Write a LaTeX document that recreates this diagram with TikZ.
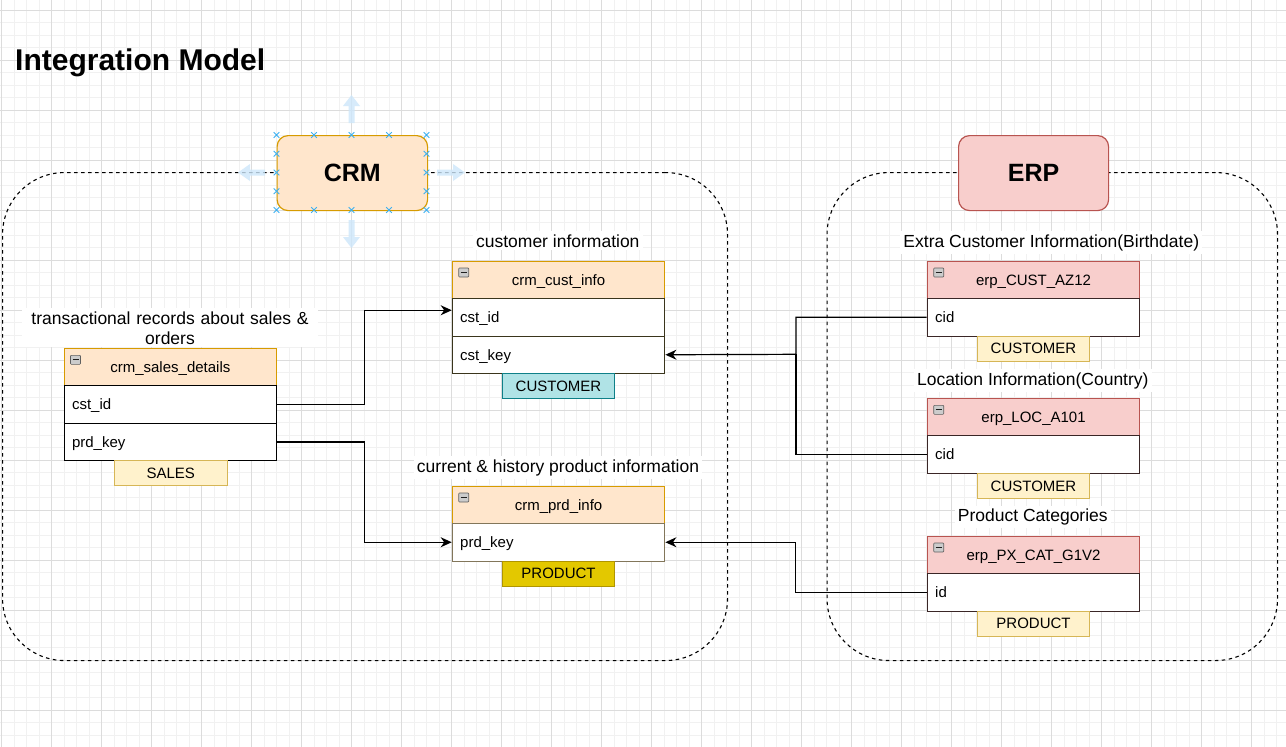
\documentclass[tikz,border=0pt]{standalone}
\usepackage{fontspec}
\setmainfont{Liberation Sans}
\usetikzlibrary{arrows.meta}
\definecolor{crmfill}{HTML}{FFE6CC}
\definecolor{crmline}{HTML}{D79B00}
\definecolor{erpfill}{HTML}{F8CECC}
\definecolor{erpline}{HTML}{B85450}
\definecolor{tagfill}{HTML}{FFF2CC}
\definecolor{tagline}{HTML}{D6B656}
\definecolor{tealfill}{HTML}{B0E3E6}
\definecolor{tealline}{HTML}{0E8088}
\definecolor{goldfill}{HTML}{E3C800}
\definecolor{goldline}{HTML}{B09500}
\definecolor{gridminor}{HTML}{F1F1F1}
\definecolor{gridmajor}{HTML}{DCDCDC}
\definecolor{hoverblue}{HTML}{CDE7FA}
\definecolor{handleblue}{HTML}{3DB0F0}
\definecolor{custrow}{HTML}{3A351C}
\definecolor{prdrow}{HTML}{82765A}
\definecolor{erprow}{HTML}{3A2626}
\newcommand\fsfield{\fontsize{15}{18}\selectfont}
\newcommand\fslabel{\fontsize{17.5}{20.3}\selectfont}
\newcommand\tblicon[2]{%
  \draw[iconbox] ({#1+7},{#2+7}) rectangle ({#1+17},{#2+16});
  \draw[iconbar] ({#1+9},{#2+11.5}) -- ({#1+15},{#2+11.5});}
\begin{document}
\begin{tikzpicture}[x=1pt,y=-1pt,
  zonebox/.style={rounded corners=11pt, line width=1.2pt, minimum width=150.5, minimum height=75,
    anchor=north west, inner sep=0, font=\fontsize{25}{30}\selectfont\bfseries},
  container/.style={draw=black, line width=1.1pt, dash pattern=on 3.5pt off 3.5pt,
    rounded corners=62pt, minimum height=488, anchor=north west, inner sep=0},
  head/.style={line width=1pt, minimum width=212.7, minimum height=37, anchor=north west,
    inner sep=0, text height=10, text depth=0, font=\fsfield},
  crmhead/.style={head, fill=crmfill, draw=crmline},
  erphead/.style={head, fill=erpfill, draw=erpline},
  field/.style={fill=white, line width=1pt, minimum width=212.7, minimum height=37.5,
    anchor=north west, text width=196.7, align=left, inner xsep=8, inner ysep=0,
    text height=10.6, text depth=0, font=\fsfield},
  tag/.style={line width=1pt, minimum width=112.6, minimum height=25, anchor=north west,
    inner sep=0, text height=10.4, text depth=0, font=\fsfield},
  yellowtag/.style={tag, fill=tagfill, draw=tagline},
  lab/.style={fill=white, inner sep=3pt, anchor=base, font=\fslabel},
  iconbox/.style={draw=gray!75!black, fill=gray!40, line width=0.6pt, rounded corners=0.8pt},
  iconbar/.style={draw=gray!25!black, line width=1.3pt},
  conn/.style={draw=black, line width=1.2pt},
  tip/.style={-{Stealth[length=11pt,width=10pt,inset=3.5pt]}},
  hover/.style={fill=hoverblue, opacity=0.8},
  handle/.style={draw=handleblue, line width=0.9pt}
]
\useasboundingbox (0,0) rectangle (1286,747);
\fill[white] (0,0) rectangle (1286,747);
% grid
\foreach \i in {0,...,102} \draw[gridminor, line width=1pt] ({1.7+12.5*\i},0) -- ({1.7+12.5*\i},747);
\foreach \j in {0,...,58} \draw[gridminor, line width=1pt] (0,{10+12.5*\j}) -- (1286,{10+12.5*\j});
\foreach \i in {0,...,25} \draw[gridmajor, line width=1pt] ({1.7+50*\i},0) -- ({1.7+50*\i},747);
\foreach \j in {0,...,14} \draw[gridmajor, line width=1pt] (0,{10+50*\j}) -- (1286,{10+50*\j});

% title
\node[anchor=base west, inner sep=0, font=\fontsize{30}{36}\selectfont\bfseries] (title) at (15,70) {Integration Model};

% labels
\node[lab] (lab-ci) at (557.8,247) {customer information};
\node[lab, text width=290, align=center] (lab-sd) at (170,324) {transactional records about sales \&\\orders};
\node[lab] (lab-cp) at (558,472) {current \& history product information};
\node[lab] (lab-ec) at (1051.3,247) {Extra Customer Information(Birthdate)};
\node[lab] (lab-el) at (1032.8,385) {Location Information(Country)};
\node[lab] (lab-ep) at (1032.8,521.7) {Product Categories};

% containers
\node[container, minimum width=725] (crmzone) at (2,172) {};
\node[container, minimum width=450.5] (erpzone) at (826.5,172) {};

% hover arrows around CRM
\fill[hover] (348.5,123) -- (348.5,106) -- (343,106) -- (351.5,95) -- (360,106) -- (354.5,106) -- (354.5,123) -- cycle;
\fill[hover] (348.5,220) -- (348.5,237) -- (343,237) -- (351.5,248) -- (360,237) -- (354.5,237) -- (354.5,220) -- cycle;
\fill[hover] (265,169.5) -- (250,169.5) -- (250,164) -- (238,172.5) -- (250,181) -- (250,175.5) -- (265,175.5) -- cycle;
\fill[hover] (437,169.5) -- (453,169.5) -- (453,164) -- (465,172.5) -- (453,181) -- (453,175.5) -- (437,175.5) -- cycle;

% CRM / ERP boxes
\node[zonebox, fill=crmfill, draw=crmline] (crm) at (276.5,135) {CRM};
\node[zonebox, fill=erpfill, draw=erpline, minimum width=150] (erp) at (958,135) {ERP};

% selection handles on CRM
\foreach \hx in {276.5,314,351.5,389,426.5} {
  \foreach \hy in {135,210} {
    \draw[handle] (\hx,\hy) ++(-2.8,-2.8) -- ++(5.6,5.6) (\hx,\hy) ++(-2.8,2.8) -- ++(5.6,-5.6);
  }
}
\foreach \hx in {276.5,426.5} {
  \foreach \hy in {153.75,172.5,191.25} {
    \draw[handle] (\hx,\hy) ++(-2.8,-2.8) -- ++(5.6,5.6) (\hx,\hy) ++(-2.8,2.8) -- ++(5.6,-5.6);
  }
}

% crm_sales_details
\node[crmhead] (sd-head) at (63.5,348.3) {crm\_sales\_details};
\node[field, draw=black] (sd-cst) at (63.5,385.3) {cst\_id};
\node[field, draw=black] (sd-prd) at (63.5,422.8) {prd\_key};
\node[yellowtag] (sd-tag) at (114,460.3) {SALES};
\tblicon{63.5}{348.3}

% crm_cust_info
\node[crmhead] (ci-head) at (451.7,261) {crm\_cust\_info};
\node[field, draw=custrow] (ci-cst) at (451.7,298) {cst\_id};
\node[field, draw=custrow] (ci-key) at (451.7,335.5) {cst\_key};
\node[tag, fill=tealfill, draw=tealline] (ci-tag) at (501.7,373) {CUSTOMER};
\tblicon{451.7}{261}

% crm_prd_info
\node[crmhead] (cp-head) at (451.7,486) {crm\_prd\_info};
\node[field, draw=prdrow] (cp-key) at (451.7,523) {prd\_key};
\node[tag, fill=goldfill, draw=goldline] (cp-tag) at (501.7,560.5) {PRODUCT};
\tblicon{451.7}{486}

% erp_CUST_AZ12
\node[erphead] (ec-head) at (926.7,261) {erp\_CUST\_AZ12};
\node[field, draw=erprow] (ec-cid) at (926.7,298) {cid};
\node[yellowtag] (ec-tag) at (976.7,335.5) {CUSTOMER};
\tblicon{926.7}{261}

% erp_LOC_A101
\node[erphead] (el-head) at (926.7,398.3) {erp\_LOC\_A101};
\node[field, draw=erprow] (el-cid) at (926.7,435.3) {cid};
\node[yellowtag] (el-tag) at (976.7,472.8) {CUSTOMER};
\tblicon{926.7}{398.3}

% erp_PX_CAT_G1V2
\node[erphead] (ep-head) at (926.7,536) {erp\_PX\_CAT\_G1V2};
\node[field, draw=erprow] (ep-id) at (926.7,573) {id};
\node[yellowtag] (ep-tag) at (976.7,610.5) {PRODUCT};
\tblicon{926.7}{536}

% connectors
\coordinate (jc) at (796,354.3);
\draw[conn, tip] (sd-cst.east) -- ++(87,0) |- ([yshift=7pt]ci-cst.west);
\draw[conn, tip] (sd-prd.east) -- ++(87,0) |- (cp-key.west);
\draw[conn, tip] (ec-cid.west) -| (jc) -- (ci-key.east);
\draw[conn] (el-cid.west) -| (jc);
\draw[conn, tip] (ep-id.west) -- ++(-131,0) |- (cp-key.east);
\end{tikzpicture}
\end{document}
